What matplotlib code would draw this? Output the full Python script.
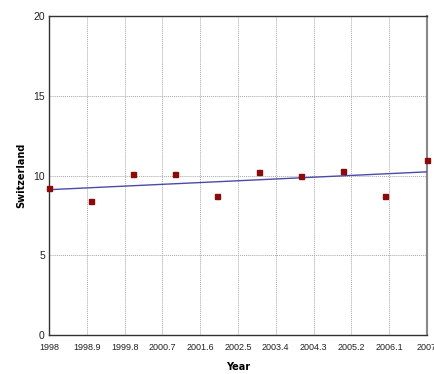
import numpy as np
import matplotlib
matplotlib.use("Agg")
import matplotlib.pyplot as plt

# valores
anos = [1998, 1999, 2000, 2001, 2002, 2003, 2004, 2005, 2006, 2007]
valores = [9.2, 8.4, 10.1, 10.1, 8.7, 10.2, 10.0, 10.3, 8.7, 11.0]
ticks_x = [1998, 1998.9, 1999.8, 2000.7, 2001.6, 2002.5, 2003.4, 2004.3, 2005.2, 2006.1, 2007]
rotulos_x = ["1998", "1998.9", "1999.8", "2000.7", "2001.6", "2002.5",
             "2003.4", "2004.3", "2005.2", "2006.1", "2007"]
ticks_y = [0, 5, 10, 15, 20]

fig = plt.figure(figsize=(4.34, 3.74), dpi=100)
ax = fig.add_axes([49 / 434, 39 / 374, 378 / 434, 319 / 374])

# linha de tendencia (regressao linear)
coef = np.polyfit(anos, valores, 1)
xs = np.array([anos[0], anos[-1]])
ax.plot(xs, np.polyval(coef, xs), color='#4a4aa8', linewidth=1.0, zorder=3)

ax.plot(anos, valores, 's', color='#8b0a0a', markersize=3.6, zorder=4, clip_on=False)

ax.set_xlim(1998, 2007)
ax.set_ylim(0, 20)
ax.set_xticks(ticks_x)
ax.set_xticklabels(rotulos_x, fontsize=6.5, family='Liberation Sans', color='#222222')
ax.set_yticks(ticks_y)
ax.set_yticklabels([str(t) for t in ticks_y], fontsize=7.5, family='Liberation Sans', color='#222222')
ax.tick_params(axis='x', length=0, pad=6)
ax.tick_params(axis='y', length=0, pad=3)

ax.grid(True, color='#a8a8a8', linestyle=(0, (1, 1)), linewidth=0.7)

for s in ['left', 'bottom', 'top']:
    ax.spines[s].set_color('#333333')
    ax.spines[s].set_linewidth(1.0)
ax.spines['right'].set_color('#888888')
ax.spines['right'].set_linewidth(1.5)

ax.set_xlabel('Year', fontsize=7, fontweight='bold', labelpad=7)
ax.set_ylabel('Switzerland', fontsize=7, fontweight='bold', labelpad=5)

fig.savefig('out.png', dpi=100)
